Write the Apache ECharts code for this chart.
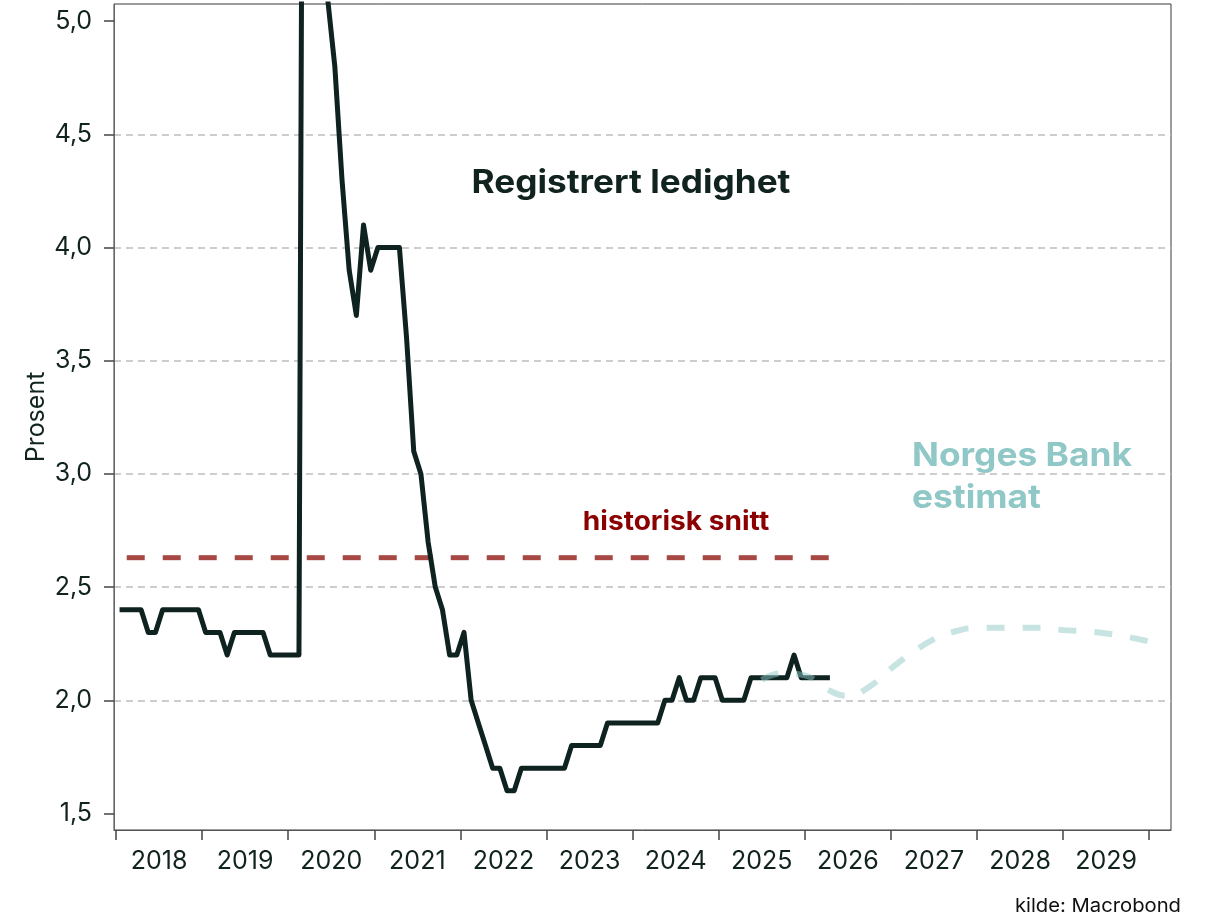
<!DOCTYPE html>
<html lang="no">
<head>
<meta charset="UTF-8">
<script src="https://cdn.jsdelivr.net/npm/echarts@6/dist/echarts.min.js"></script>
</head>
<body style="margin:0">
<div id="container" style="width:1210px;height:920px"></div>
<script>
// Registrert ledighet (prosent), månedlig fra jan. 2018
var startYear = 2018;
var ledighet = [
  2.4, 2.4, 2.4, 2.4, 2.3, 2.3, 2.4, 2.4, 2.4, 2.4, 2.4, 2.4,   // 2018
  2.3, 2.3, 2.3, 2.2, 2.3, 2.3, 2.3, 2.3, 2.3, 2.2, 2.2, 2.2,   // 2019
  2.2, 2.2, 10.4, 10.7, 9.0, 5.1, 4.8, 4.3, 3.9, 3.7, 4.1, 3.9, // 2020
  4.0, 4.0, 4.0, 4.0, 3.6, 3.1, 3.0, 2.7, 2.5, 2.4, 2.2, 2.2,   // 2021
  2.3, 2.0, 1.9, 1.8, 1.7, 1.7, 1.6, 1.6, 1.7, 1.7, 1.7, 1.7,   // 2022
  1.7, 1.7, 1.7, 1.8, 1.8, 1.8, 1.8, 1.8, 1.9, 1.9, 1.9, 1.9,   // 2023
  1.9, 1.9, 1.9, 1.9, 2.0, 2.0, 2.1, 2.0, 2.0, 2.1, 2.1, 2.1,   // 2024
  2.0, 2.0, 2.0, 2.0, 2.1, 2.1, 2.1, 2.1, 2.1, 2.1, 2.2, 2.1,   // 2025
  2.1, 2.1, 2.1, 2.1                                            // 2026
];

// Norges Bank estimat, kvartalsvis (desimalår)
var prognoseTid = [2025.5, 2025.75, 2026.0, 2026.25, 2026.5, 2026.75, 2027.0, 2027.25, 2027.5,
  2027.75, 2028.0, 2028.25, 2028.5, 2028.75, 2029.0, 2029.25, 2029.5, 2029.75, 2030.0];
var prognose = [2.09, 2.12, 2.11, 2.05, 2.02, 2.06, 2.14, 2.21, 2.27,
  2.305, 2.32, 2.32, 2.32, 2.32, 2.31, 2.305, 2.295, 2.28, 2.26];

// historisk snitt
var snittVerdi = 2.63;
var snittFra = 1;   // månedindeks (feb. 2018)
var snittTil = 99;  // månedindeks (apr. 2026)

var yTicks = [1.5, 2.0, 2.5, 3.0, 3.5, 4.0, 4.5, 5.0];
var years = [2018, 2019, 2020, 2021, 2022, 2023, 2024, 2025, 2026, 2027, 2028, 2029, 2030];

function monthX(i) {
  return startYear + (i + 0.5) / 12;
}

var textColor = '#10231f';
var font = 'Inter, "Liberation Sans", Arial, sans-serif';

var chart = echarts.init(document.getElementById('container'), null, { renderer: 'canvas' });

function label(text, x, y, size, color, align, stretch, weight, rotation) {
  return {
    type: 'text', x: x, y: y, z: 10, scaleX: stretch, rotation: rotation || 0,
    style: {
      text: text, fill: color,
      font: (weight || 'bold') + ' ' + size + 'px ' + font,
      align: align, verticalAlign: 'middle',
      textAlign: align, textVerticalAlign: 'middle'
    }
  };
}

var option = {
  animation: false,
  backgroundColor: '#fff',
  textStyle: { fontFamily: font },
  grid: {
    left: 114, right: 39, top: 4, bottom: 90,
    containLabel: false,
    show: true,
    borderColor: '#3a3a3a',
    borderWidth: 1
  },
  xAxis: {
    type: 'value',
    min: 2017.977,
    max: 2030.253,
    axisLine: { show: true, lineStyle: { color: '#555', width: 1 } },
    axisTick: {
      show: true, length: 10, customValues: years,
      lineStyle: { color: '#444', width: 1.5 }
    },
    axisLabel: {
      customValues: years.slice(0, -1).map(function (y) { return y + 0.5; }),
      formatter: function (v) { return String(Math.floor(v)); },
      color: textColor, fontSize: 25, fontFamily: font, margin: 19
    },
    splitLine: { show: false }
  },
  yAxis: {
    type: 'value',
    min: 1.427,
    max: 5.076,
    splitNumber: 7,
    axisLine: { show: true, lineStyle: { color: '#666', width: 1 } },
    axisTick: {
      show: true, length: 10, customValues: yTicks,
      lineStyle: { color: '#444', width: 1.5 }
    },
    axisLabel: {
      customValues: yTicks,
      formatter: function (v) { return v.toFixed(1).replace('.', ','); },
      color: textColor, fontSize: 25, fontFamily: font, margin: 22
    },
    splitLine: {
      show: true, showMinLine: false, showMaxLine: false,
      lineStyle: { color: '#bdbdbd', width: 1.5, type: [7, 5] }
    }
  },
  series: [
    {
      name: 'historisk snitt',
      type: 'line',
      z: 2,
      showSymbol: false,
      silent: true,
      data: [[monthX(snittFra), snittVerdi], [monthX(snittTil), snittVerdi]],
      lineStyle: { color: '#a84845', width: 5, type: [18, 18] }
    },
    {
      name: 'Registrert ledighet',
      type: 'line',
      z: 3,
      showSymbol: false,
      silent: true,
      data: ledighet.map(function (v, i) { return [monthX(i), v]; }),
      lineStyle: { color: '#0e2220', width: 5, join: 'round' }
    },
    {
      name: 'Norges Bank estimat',
      type: 'line',
      z: 4,
      smooth: true,
      showSymbol: false,
      silent: true,
      data: prognose.map(function (v, i) { return [prognoseTid[i], v]; }),
      lineStyle: { color: 'rgba(143,201,199,0.5)', width: 6, type: [18, 18] }
    }
  ],
  graphic: [
    label('Prosent', 36, 417, 25, textColor, 'center', 1, 'normal', Math.PI / 2),
    label('Registrert ledighet', 631, 183, 32, textColor, 'center', 1.1),
    label('historisk snitt', 676, 522, 26, '#8b0000', 'center', 1.08),
    label('Norges Bank', 912, 456, 33, '#8fc8c6', 'left', 1.07),
    label('estimat', 912, 498, 33, '#8fc8c6', 'left', 1.07),
    label('kilde: Macrobond', 1181, 906, 19, '#111', 'right', 1.065, 'normal')
  ]
};

chart.setOption(option);
window.addEventListener('resize', chart.resize);
</script>
</body>
</html>
